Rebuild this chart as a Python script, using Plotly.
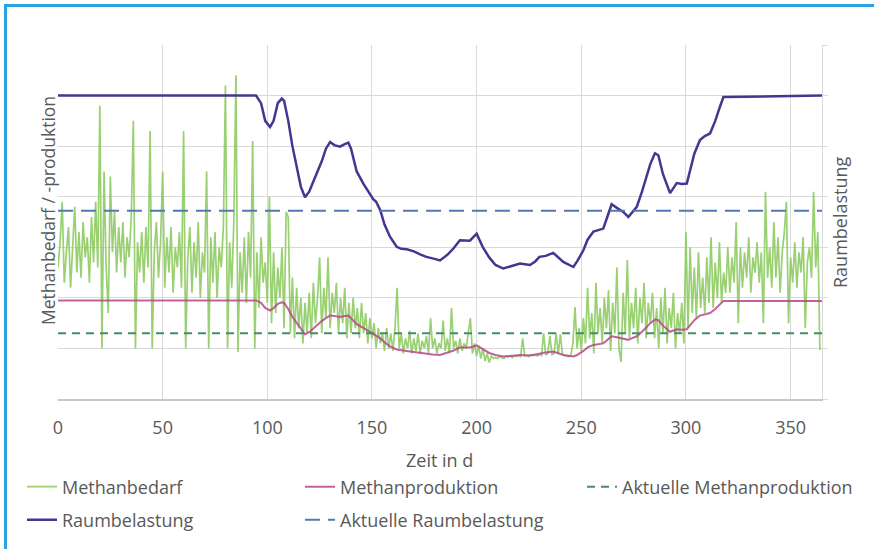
import plotly.graph_objects as go

# ---------------- data ----------------
methanbedarf = [
    2.6, 3.1, 3.9, 2.3, 2.9, 3.4, 2.2, 3.0, 3.8, 2.5,
    3.3, 2.4, 3.5, 2.8, 3.2, 2.3, 3.6, 2.7, 3.9, 2.6,
    5.8, 1.0, 4.5, 2.6, 1.7, 4.4, 2.9, 3.7, 2.5, 3.4,
    2.7, 3.5, 2.4, 3.2, 2.8, 3.6, 5.5, 1.0, 3.1, 2.5,
    3.3, 2.3, 3.4, 2.6, 5.3, 1.0, 2.9, 3.5, 2.4, 3.1,
    4.5, 2.2, 3.2, 2.5, 3.4, 2.1, 3.0, 2.6, 3.3, 2.2,
    5.3, 1.0, 2.8, 3.4, 2.1, 3.1, 2.4, 3.5, 2.0, 2.9,
    2.5, 4.5, 1.0, 3.2, 2.3, 3.3, 2.0, 3.0, 2.6, 3.4,
    6.2, 1.0, 3.1, 2.2, 3.5, 6.4, 0.93, 2.9, 2.1, 3.2,
    1.9, 3.3, 2.4, 5.1, 1.0, 2.9, 1.8, 3.2, 2.3, 2.7,
    1.9, 4.0, 1.5, 2.9, 1.7, 2.6, 2.0, 3.0, 1.4, 3.7,
    3.6, 1.3, 2.4, 1.2, 2.2, 1.4, 2.0, 1.1, 1.9, 1.3,
    2.1, 1.2, 2.3, 1.5, 2.0, 2.8, 1.3, 2.2, 1.6, 2.8,
    1.4, 2.1, 1.7, 2.3, 1.3, 2.0, 1.5, 2.2, 1.2, 1.9,
    1.3, 2.0, 1.4, 1.8, 1.2, 1.9, 1.3, 1.7, 1.1, 1.6,
    1.2, 1.5, 1.0, 1.4, 1.1, 1.3, 0.95, 1.4, 1.0, 1.3,
    0.95, 1.4, 2.2, 1.0, 1.3, 0.9, 1.2, 1.0, 1.35, 0.9,
    1.2, 0.95, 1.3, 0.9, 1.15, 1.0, 1.25, 0.9, 1.6, 1.0,
    1.2, 0.9, 1.1, 1.0, 1.55, 0.95, 1.2, 0.9, 1.8, 1.0,
    1.15, 0.9, 1.2, 0.95, 1.1, 1.0, 1.3, 1.6, 0.9, 1.1,
    0.85, 1.05, 0.8, 1.0, 0.75, 0.9, 0.72, 0.85, 0.8, 0.82,
    0.8, 0.84, 0.82, 0.8, 0.85, 0.83, 0.86, 0.82, 0.85, 0.84,
    0.86, 0.84, 1.2, 0.85, 0.86, 0.84, 0.88, 0.86, 0.87, 0.85,
    0.88, 0.86, 1.3, 0.87, 0.9, 1.25, 0.88, 0.9, 1.3, 0.89,
    1.28, 0.88, 0.86, 0.85, 0.84, 0.86, 1.1, 1.82, 1.0, 1.4,
    0.95, 1.6, 1.1, 2.2, 1.2, 1.7, 0.9, 2.3, 1.3, 1.8,
    1.1, 2.0, 1.4, 2.15, 0.95, 1.9, 1.3, 2.6, 1.0, 0.73,
    2.1, 1.3, 2.75, 1.2, 1.9, 1.4, 2.2, 1.1, 2.0, 1.5,
    2.3, 1.2, 1.9, 1.5, 2.1, 1.2, 1.8, 1.0, 2.0, 1.3,
    2.2, 1.1, 1.8, 1.4, 2.1, 1.0, 1.7, 1.3, 1.9, 1.1,
    3.3, 1.4, 3.0, 1.7, 2.6, 1.6, 2.9, 1.8, 2.4, 1.7,
    2.8, 1.9, 3.2, 1.8, 2.7, 2.0, 3.1, 1.9, 2.5, 2.1,
    3.0, 2.1, 2.8, 2.3, 3.5, 1.5, 3.0, 2.2, 2.9, 2.4,
    3.2, 2.1, 2.8, 2.5, 3.1, 2.3, 2.9, 1.5, 4.1, 2.4,
    3.0, 2.2, 3.5, 2.4, 3.2, 2.1, 2.9, 3.3, 3.9, 1.5,
    2.8, 2.3, 3.1, 2.2, 2.9, 2.5, 3.2, 1.4, 2.7, 3.0,
    2.4, 4.1, 2.6, 3.3, 0.97,
]
bedarf_days = list(range(len(methanbedarf)))

raum_days = [0, 94.6, 97, 99, 101.3, 103, 105, 106.9, 108, 110, 112, 114, 116, 118,
             120, 122, 124, 126, 128, 130, 132, 134.7, 137, 138.7, 140, 142.7, 146,
             150.6, 152, 154, 156, 158.6, 161.8, 164, 166.6, 170, 173, 176, 179,
             182.5, 186, 189, 192, 196.8, 200, 203, 206, 209, 212.7, 216, 220.7,
             225.5, 228, 230, 233, 236.6, 239, 241.4, 246.2, 248, 251, 253, 255.8,
             260.5, 262, 264.5, 267, 270, 272.5, 274, 276.5, 279, 281.2, 283, 285.2,
             286.8, 289, 292.4, 295.6, 298, 300.4, 302, 304, 306.7, 309, 311.5, 314,
             316, 317.9, 365]
raumbelastung = [6.0, 6.0, 5.85, 5.5, 5.38, 5.5, 5.85, 5.94, 5.9, 5.5, 5.0, 4.6, 4.2, 3.99,
                 4.1, 4.3, 4.5, 4.7, 4.95, 5.08, 5.02, 4.99, 5.04, 5.07, 4.95, 4.5, 4.25,
                 3.95, 3.9, 3.73, 3.45, 3.21, 3.01, 2.97, 2.96, 2.92, 2.86, 2.81, 2.78,
                 2.74, 2.85, 2.98, 3.14, 3.13, 3.27, 3.0, 2.8, 2.65, 2.58, 2.62, 2.68,
                 2.65, 2.72, 2.81, 2.83, 2.89, 2.8, 2.71, 2.61, 2.72, 2.94, 3.15, 3.31,
                 3.37, 3.55, 3.85, 3.78, 3.70, 3.60, 3.68, 3.80, 4.1, 4.39, 4.65, 4.86,
                 4.82, 4.45, 4.07, 4.27, 4.25, 4.26, 4.55, 4.85, 5.12, 5.2, 5.25, 5.5,
                 5.75, 5.97, 6.0]

prod_days = [0, 94.6, 97, 99, 101.3, 103, 105, 106.9, 108, 110, 112, 114, 116, 118,
             120, 122, 124, 126, 128, 130, 132, 134.7, 137, 138.7, 140, 142.7, 146,
             150.6, 152, 154, 156, 158.6, 161.8, 164, 166.6, 170, 173, 176, 179,
             182.5, 186, 189, 192, 196.8, 200, 203, 206, 209, 212.7, 216, 220.7,
             225.5, 228, 230, 233, 236.6, 239, 241.4, 246.2, 248, 251, 253, 255.8,
             260.5, 262, 264.5, 267, 270, 272.5, 274, 276.5, 279, 281.2, 283, 285.2,
             286.8, 289, 292.4, 295.6, 298, 300.4, 302, 304, 306.7, 309, 311.5, 314,
             316, 317.9, 365]
methanproduktion = [1.95, 1.95, 1.9, 1.8, 1.75, 1.8, 1.88, 1.91, 1.9, 1.78, 1.62, 1.5, 1.38, 1.28,
                    1.32, 1.4, 1.47, 1.54, 1.6, 1.65, 1.64, 1.62, 1.64, 1.65, 1.6, 1.48, 1.4,
                    1.28, 1.25, 1.2, 1.12, 1.04, 0.98, 0.96, 0.95, 0.93, 0.91, 0.89, 0.88,
                    0.87, 0.92, 0.96, 1.02, 1.02, 1.06, 0.98, 0.91, 0.87, 0.84, 0.85, 0.87,
                    0.86, 0.88, 0.91, 0.92, 0.94, 0.9, 0.87, 0.84, 0.87, 0.95, 1.02, 1.07,
                    1.1, 1.15, 1.24, 1.22, 1.2, 1.17, 1.2, 1.24, 1.33, 1.43, 1.5, 1.57,
                    1.56, 1.45, 1.33, 1.38, 1.37, 1.38, 1.47, 1.56, 1.65, 1.68, 1.7, 1.78,
                    1.86, 1.94, 1.94]

aktuell_days = [0, 365]
aktuelle_methanproduktion = [1.30, 1.30]
aktuelle_raumbelastung = [3.72, 3.72]

x_ticks = [0, 50, 100, 150, 200, 250, 300, 350]

# ---------------- styling ----------------
FONT = "Open Sans"
TXT = "#595959"
GRID = "#d9d9d9"

fig = go.Figure()

fig.add_trace(go.Scatter(x=bedarf_days, y=methanbedarf, name="Methanbedarf", mode="lines",
                         line=dict(color="rgba(135,200,88,0.85)", width=1.7),
                         legend="legend"))
fig.add_trace(go.Scatter(x=prod_days, y=methanproduktion, name="Methanproduktion", mode="lines",
                         line=dict(color="rgba(182,70,140,0.85)", width=2),
                         legend="legend"))
fig.add_trace(go.Scatter(x=aktuell_days, y=aktuelle_methanproduktion, name="Aktuelle Methanproduktion",
                         mode="lines", line=dict(color="#4a8a6c", width=2, dash="8px,6px"),
                         legend="legend3"))
fig.add_trace(go.Scatter(x=raum_days, y=raumbelastung, name="Raumbelastung", mode="lines",
                         line=dict(color="#48358f", width=2.5), yaxis="y2",
                         legend="legend2"))
fig.add_trace(go.Scatter(x=aktuell_days, y=aktuelle_raumbelastung, name="Aktuelle Raumbelastung",
                         mode="lines", line=dict(color="#5279b3", width=2, dash="15px,8px"),
                         yaxis="y2", legend="legend2"))

PW = 764.0
PH = 354.0
def px_x(px):
    return (px - 58) / PW
def px_y(py):
    return (399 - py) / PH

legend_common = dict(orientation="h", xanchor="left", yanchor="middle",
                     font=dict(family=FONT, size=18, color=TXT),
                     bgcolor="rgba(0,0,0,0)", entrywidthmode="pixels", entrywidth=233,
                     traceorder="normal")

fig.update_layout(
    width=874, height=549,
    margin=dict(l=58, r=52, t=45, b=150, autoexpand=False),
    paper_bgcolor="white", plot_bgcolor="white",
    font=dict(family=FONT, size=18, color=TXT),
    showlegend=True,
    legend=dict(x=px_x(22), y=px_y(487), **legend_common),
    legend2=dict(x=px_x(22), y=px_y(520), **legend_common),
    legend3=dict(x=px_x(582), y=px_y(487), **legend_common),
    xaxis=dict(range=[0, 365], tickvals=x_ticks, showgrid=True, gridcolor=GRID, gridwidth=1,
               zeroline=False, showline=True, linecolor="#c8c8c8", linewidth=1.5,
               ticks="", tickfont=dict(family=FONT, size=18, color=TXT),
               ticklabelstandoff=12),
    yaxis=dict(range=[0, 7], dtick=1, showgrid=True, gridcolor=GRID, gridwidth=1,
               zeroline=False, showticklabels=False, ticks="", showline=False),
    yaxis2=dict(range=[0, 7], dtick=1, overlaying="y", side="right", showgrid=False,
                zeroline=False, showticklabels=False, ticks="outside", ticklen=5,
                tickcolor=GRID, showline=True, linecolor=GRID, linewidth=1),
    annotations=[
        dict(text="Methanbedarf / -produktion", textangle=-90, xref="paper", yref="paper",
             x=px_x(48), y=px_y(211), xanchor="center", yanchor="middle", showarrow=False,
             font=dict(family=FONT, size=17.5, color=TXT)),
        dict(text="Raumbelastung", textangle=-90, xref="paper", yref="paper",
             x=px_x(840), y=px_y(222), xanchor="center", yanchor="middle", showarrow=False,
             font=dict(family=FONT, size=18, color=TXT)),
        dict(text="Zeit in d", xref="paper", yref="paper",
             x=px_x(439), y=px_y(460), xanchor="center", yanchor="middle", showarrow=False,
             font=dict(family=FONT, size=18, color=TXT)),
    ],
    shapes=[
        dict(type="line", xref="paper", yref="paper", x0=px_x(4), x1=px_x(880),
             y0=px_y(5.5), y1=px_y(5.5), line=dict(color="#2aa3e0", width=3)),
        dict(type="line", xref="paper", yref="paper", x0=px_x(5.5), x1=px_x(5.5),
             y0=px_y(4), y1=px_y(560), line=dict(color="#2aa3e0", width=3)),
    ],
)

fig.write_html("out.html", config={"displayModeBar": False},
               post_script="document.body.style.margin='0';document.body.style.overflow='hidden';")
